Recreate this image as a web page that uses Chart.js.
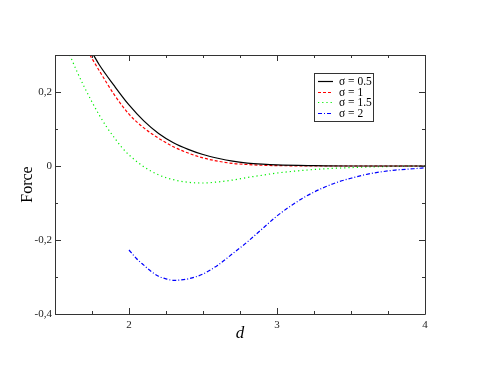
<!DOCTYPE html>
<html>
<head>
<meta charset="utf-8">
<script src="https://cdn.jsdelivr.net/npm/chart.js@4/dist/chart.umd.min.js"></script>
<style>
  html, body { margin: 0; padding: 0; background: #fff; }
  canvas { display: block; }
</style>
</head>
<body>
<canvas id="forceChart" width="479" height="370"></canvas>
<script>
/* Force vs d for several sigma values */

const seriesLabels = ['σ = 0.5', 'σ = 1', 'σ = 1.5', 'σ = 2'];

const s05X = [1.76, 1.80, 1.90, 2.00, 2.10, 2.20, 2.30, 2.40, 2.50, 2.60, 2.70, 2.80, 2.90, 3.00, 3.25, 3.50, 4.00];
const s05Y = [0.300, 0.273, 0.217, 0.165, 0.122, 0.088, 0.063, 0.045, 0.031, 0.021, 0.013, 0.008, 0.005, 0.003, 0.001, 0.000, 0.000];

const s1X = [1.736, 1.80, 1.90, 2.00, 2.10, 2.20, 2.30, 2.40, 2.50, 2.60, 2.70, 2.80, 2.90, 3.00, 3.50, 4.00];
const s1Y = [0.300, 0.257, 0.193, 0.140, 0.103, 0.075, 0.052, 0.035, 0.022, 0.013, 0.007, 0.004, 0.002, 0.001, 0.000, 0.000];

const s15X = [1.60, 1.65, 1.70, 1.75, 1.80, 1.85, 1.90, 1.95, 2.00, 2.10, 2.20, 2.30, 2.40, 2.50, 2.60, 2.70, 2.80, 2.90, 3.00, 3.20, 3.40, 3.60, 3.80, 4.00];
const s15Y = [0.300, 0.254, 0.212, 0.173, 0.137, 0.105, 0.077, 0.051, 0.030, -0.002, -0.024, -0.037, -0.044, -0.046, -0.043, -0.038, -0.031, -0.025, -0.019, -0.011, -0.006, -0.003, -0.001, 0.000];

const s2X = [2.00, 2.05, 2.10, 2.15, 2.20, 2.25, 2.30, 2.35, 2.40, 2.50, 2.60, 2.70, 2.80, 2.90, 3.00, 3.10, 3.20, 3.30, 3.40, 3.50, 3.60, 3.70, 3.80, 3.90, 4.00];
const s2Y = [-0.227, -0.250, -0.268, -0.285, -0.298, -0.305, -0.309, -0.308, -0.305, -0.292, -0.268, -0.237, -0.205, -0.170, -0.135, -0.106, -0.081, -0.061, -0.045, -0.033, -0.023, -0.016, -0.011, -0.008, -0.005];

const xTickStep = 0.25;
const yTickStep = 0.1;

const pts = (xs, ys) => xs.map((x, i) => ({ x: x, y: ys[i] }));
const serif = 'Liberation Serif, "Times New Roman", serif';
const frameColor = '#333';

function fmtY(v) {
    const k = Math.round(v * 10);
    if (k % 2 !== 0) return '';
    return k === 0 ? '0' : (k / 10).toFixed(1).replace('.', ',');
}

// box around the plot + ticks pointing inwards on all four sides
const frameTicks = {
    id: 'frameTicks',
    afterDraw(chart) {
        const { ctx, chartArea: a, scales } = chart;
        ctx.save();
        ctx.strokeStyle = frameColor;
        ctx.lineWidth = 1;
        ctx.beginPath();
        ctx.rect(Math.round(a.left) + 0.5, Math.round(a.top) + 0.5, Math.round(a.right - a.left), Math.round(a.bottom - a.top));
        ctx.stroke();
        ctx.beginPath();
        scales.x.ticks.forEach(t => {
            const px = Math.round(scales.x.getPixelForValue(t.value)) + 0.5;
            const len = Math.abs(t.value - Math.round(t.value)) < 1e-6 ? 6 : 3;
            ctx.moveTo(px, a.bottom); ctx.lineTo(px, a.bottom - len);
            ctx.moveTo(px, a.top); ctx.lineTo(px, a.top + len);
        });
        scales.y.ticks.forEach(t => {
            const py = Math.round(scales.y.getPixelForValue(t.value)) + 0.5;
            const len = Math.round(t.value * 10) % 2 === 0 ? 6 : 3;
            ctx.moveTo(a.left, py); ctx.lineTo(a.left + len, py);
            ctx.moveTo(a.right, py); ctx.lineTo(a.right - len, py);
        });
        ctx.stroke();
        ctx.restore();
    }
};

// legend box inside the plot, top right
const boxLegend = {
    id: 'boxLegend',
    afterDraw(chart) {
        const ctx = chart.ctx;
        const bx = 314, by = 73, bw = 59, bh = 48;
        ctx.save();
        ctx.strokeStyle = frameColor;
        ctx.lineWidth = 1;
        ctx.strokeRect(bx + 0.5, by + 0.5, bw, bh);
        ctx.font = '11.5px ' + serif;
        ctx.fillStyle = '#000';
        ctx.textBaseline = 'middle';
        chart.data.datasets.forEach((ds, i) => {
            const y = Math.round(by + 8 + i * 10.7) + 0.5;
            ctx.strokeStyle = ds.borderColor;
            ctx.lineWidth = ds.borderWidth;
            ctx.setLineDash(ds.borderDash || []);
            ctx.beginPath();
            ctx.moveTo(bx + 4, y); ctx.lineTo(bx + 19, y);
            ctx.stroke();
            ctx.setLineDash([]);
            ctx.fillText(ds.label, bx + 25, y);
        });
        ctx.restore();
    }
};

const lineStyle = (color, dash) => ({
    borderColor: color, backgroundColor: color, borderWidth: 1.2, borderDash: dash,
    pointRadius: 0, fill: false, cubicInterpolationMode: 'monotone'
});

new Chart(document.getElementById('forceChart'), {
    type: 'line',
    data: {
        datasets: [
            { label: seriesLabels[0], data: pts(s05X, s05Y), ...lineStyle('#000000', []) },
            { label: seriesLabels[1], data: pts(s1X, s1Y), ...lineStyle('#ff0000', [3, 2]) },
            { label: seriesLabels[2], data: pts(s15X, s15Y), ...lineStyle('#00ee00', [1.2, 3]) },
            { label: seriesLabels[3], data: pts(s2X, s2Y), ...lineStyle('#0000ff', [4, 2, 1, 2]) }
        ]
    },
    options: {
        responsive: false,
        animation: false,
        events: [],
        layout: { padding: { left: 0, top: 55, right: 54, bottom: 0 } },
        plugins: { legend: { display: false }, tooltip: { enabled: false } },
        scales: {
            x: {
                type: 'linear', min: 1.5, max: 4,
                afterFit: s => { s.height = 56; },
                grid: { display: false, drawTicks: false },
                border: { display: false },
                ticks: {
                    stepSize: xTickStep, autoSkip: false, maxRotation: 0, padding: 5,
                    color: '#222', font: { family: serif, size: 11 },
                    callback: v => Math.abs(v - Math.round(v)) < 1e-6 ? String(Math.round(v)) : ''
                },
                title: { display: true, text: 'd', color: '#000', padding: { top: 0, bottom: 26 }, font: { family: serif, size: 17, style: 'italic' } }
            },
            y: {
                type: 'linear', min: -0.4, max: 0.3,
                afterFit: s => { s.width = 55; },
                grid: { display: false, drawTicks: false },
                border: { display: false },
                ticks: {
                    stepSize: yTickStep, autoSkip: false, padding: 3,
                    color: '#222', font: { family: serif, size: 11 },
                    callback: fmtY
                },
                title: { display: true, text: 'Force', color: '#000', padding: { top: 18, bottom: 0 }, font: { family: serif, size: 16 } }
            }
        }
    },
    plugins: [frameTicks, boxLegend]
});
</script>
</body>
</html>
